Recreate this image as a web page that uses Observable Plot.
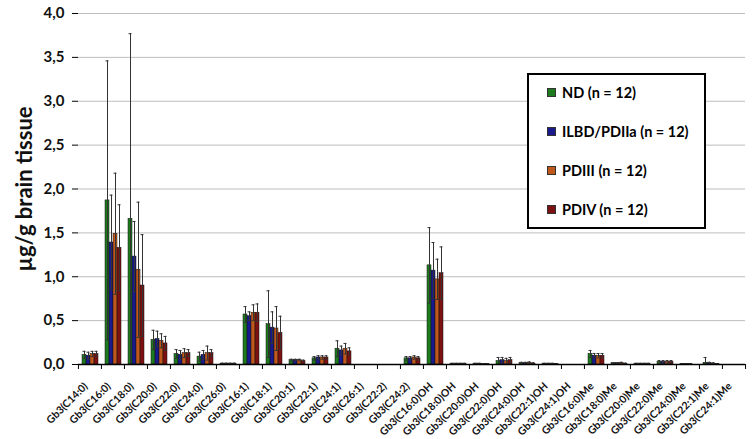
<!DOCTYPE html>
<html>
<head>
<meta charset="utf-8">
<script src="https://cdn.jsdelivr.net/npm/d3@7"></script>
<script src="https://cdn.jsdelivr.net/npm/@observablehq/plot@0.6"></script>
<style>
  body { margin: 0; background: #fff; font-family: Lato, "Open Sans", sans-serif; }
  #wrap { position: relative; width: 754px; height: 439px; }
  #legend { position: absolute; left: 527px; top: 73px; width: 175px; height: 152px;
    border: 2px solid #000; background: #fff; font-weight: bold; font-size: 14.5px; color: #000; }
  .item { position: absolute; left: 18px; display: flex; align-items: center; white-space: nowrap; }
  .sw { width: 9px; height: 9px; margin-right: 6px; border: 0.5px solid #333; box-sizing: border-box; }
</style>
</head>
<body>
<div id="wrap"></div>
<script>
const categories = ["Gb3(C14:0)","Gb3(C16:0)","Gb3(C18:0)","Gb3(C20:0)","Gb3(C22:0)","Gb3(C24:0)","Gb3(C26:0)",
  "Gb3(C16:1)","Gb3(C18:1)","Gb3(C20:1)","Gb3(C22:1)","Gb3(C24:1)","Gb3(C26:1)","Gb3(C22:2)","Gb3(C24:2)",
  "Gb3(C16:0)OH","Gb3(C18:0)OH","Gb3(C20:0)OH","Gb3(C22:0)OH","Gb3(C24:0)OH","Gb3(C22:1)OH","Gb3(C24:1)OH",
  "Gb3(C16:0)Me","Gb3(C18:0)Me","Gb3(C20:0)Me","Gb3(C22:0)Me","Gb3(C24:0)Me","Gb3(C22:1)Me","Gb3(C24:1)Me"];
const series = ["ND (n = 12)", "ILBD/PDIIa (n = 12)", "PDIII (n = 12)", "PDIV (n = 12)"];
const colors = ["#1e7a1e", "#1a1a8c", "#c0581c", "#7c1111"];

const ndValues    = [0.11,1.87,1.66,0.28,0.12,0.09,0.01,0.57,0.46,0.05,0.07,0.18,0,0,0.07,1.13,0.01,0.01,0.04,0.015,0.01,0,0.12,0.015,0.01,0.03,0.005,0.02,0];
const ilbdValues  = [0.10,1.39,1.23,0.29,0.11,0.11,0.01,0.55,0.42,0.05,0.08,0.16,0,0,0.07,1.07,0.01,0.01,0.05,0.015,0.01,0,0.10,0.015,0.01,0.03,0.005,0.015,0];
const pd3Values   = [0.12,1.49,1.08,0.27,0.13,0.13,0.01,0.59,0.41,0.05,0.08,0.18,0,0,0.08,0.97,0.01,0.005,0.04,0.02,0.01,0,0.10,0.02,0.01,0.03,0.005,0.01,0];
const pd4Values   = [0.12,1.33,0.90,0.24,0.13,0.13,0.01,0.59,0.36,0.04,0.08,0.15,0,0,0.07,1.04,0.01,0.005,0.05,0.01,0.005,0,0.10,0.01,0.01,0.03,0,0.005,0];

const ndErr   = [0.04,1.59,2.11,0.11,0.05,0.05,0.005,0.09,0.38,0.01,0.02,0.09,0,0,0.02,0.43,0.003,0.003,0.04,0.01,0.003,0,0.04,0.005,0.003,0.015,0.003,0.06,0];
const ilbdErr = [0.04,0.54,0.40,0.09,0.05,0.05,0.005,0.05,0.18,0.01,0.02,0.05,0,0,0.02,0.32,0.003,0.003,0.03,0.01,0.003,0,0.025,0.005,0.003,0.015,0.003,0.01,0];
const pd3Err  = [0.03,0.69,0.77,0.08,0.05,0.08,0.005,0.09,0.25,0.01,0.02,0.06,0,0,0.02,0.23,0.003,0.003,0.03,0.01,0.003,0,0.025,0.005,0.003,0.015,0.003,0.01,0];
const pd4Err  = [0.03,0.49,0.58,0.08,0.04,0.04,0.005,0.10,0.19,0.01,0.02,0.04,0,0,0.02,0.30,0.003,0.003,0.03,0.01,0.003,0,0.025,0.005,0.003,0.015,0,0.005,0];

const yTicks = [0, 0.5, 1, 1.5, 2, 2.5, 3, 3.5, 4];

const valueSets = [ndValues, ilbdValues, pd3Values, pd4Values];
const errSets = [ndErr, ilbdErr, pd3Err, pd4Err];
const data = categories.flatMap((c, i) => series.map((s, j) => ({
  category: c, series: s, value: valueSets[j][i], err: errSets[j][i]
})));
const has = d => d.value > 0;

const W = 754, H = 439, mL = 76, mR = 8, mT = 13, mB = 75;
const step = (W - mL - mR) / categories.length;
const fmt = d => d.toFixed(1).replace(".", ",");

const chart = Plot.plot({
  width: W, height: H,
  marginLeft: mL, marginRight: mR, marginTop: mT, marginBottom: mB,
  style: { fontFamily: "Lato, 'Open Sans', sans-serif", fontWeight: "bold", color: "#111", background: "#fff" },
  fx: { domain: categories, padding: 0, axis: null, label: null },
  x: { domain: series, paddingInner: 0, paddingOuter: 0.7, axis: null },
  y: { domain: [0, 4], axis: null },
  color: { domain: series, range: colors },
  marks: [
    Plot.ruleY(yTicks.slice(1), { stroke: "#bdbdbd", strokeWidth: 1 }),
    Plot.barY(data, { fx: "category", x: "series", y: "value", fill: "series", stroke: "#111", strokeWidth: 0.5, filter: has }),
    Plot.ruleX(data, { fx: "category", x: "series", y1: d => Math.max(0, d.value - d.err), y2: d => d.value + d.err, stroke: "#333", strokeWidth: 1, filter: has }),
    Plot.tickY(data, { fx: "category", x: "series", y: d => d.value + d.err, stroke: "#333", strokeWidth: 1, insetLeft: 0.5, insetRight: 0.5, filter: has }),
    Plot.tickY(data, { fx: "category", x: "series", y: d => Math.max(0, d.value - d.err), stroke: "#333", strokeWidth: 1, insetLeft: 0.5, insetRight: 0.5, filter: has }),
    Plot.ruleY([0], { stroke: "#000", strokeWidth: 1.5 }),
    Plot.axisY({ facetAnchor: "left", ticks: yTicks, tickFormat: fmt, tickSize: 6, tickPadding: 8, fontSize: 15, label: null, line: true, stroke: "#000" }),
    Plot.axisY({ facetAnchor: "left", ticks: [], label: "µg/g brain tissue", labelAnchor: "center", labelArrow: false, labelOffset: 62, fontSize: 22, dy: 10 }),
    Plot.axisFx({ anchor: "bottom", facetAnchor: "bottom", tickSize: 5, tickFormat: () => "", dx: -step / 2, stroke: "#000", label: null }),
    Plot.axisFx({ anchor: "bottom", facetAnchor: "bottom", ticks: [categories[categories.length - 1]], tickSize: 5, tickFormat: () => "", dx: step / 2, stroke: "#000", label: null }),
    Plot.axisFx({ anchor: "bottom", facetAnchor: "bottom", tickSize: 0, tickPadding: 15, tickRotate: -45, fontSize: 10.5, label: null, dx: -4, dy: 5 })
  ]
});

const wrap = document.getElementById("wrap");
wrap.appendChild(chart);

const legend = document.createElement("div");
legend.id = "legend";
series.forEach((s, i) => {
  const item = document.createElement("div");
  item.className = "item";
  item.style.top = (9 + i * 39) + "px";
  const sw = document.createElement("span");
  sw.className = "sw";
  sw.style.background = colors[i];
  const t = document.createElement("span");
  t.textContent = s;
  item.appendChild(sw);
  item.appendChild(t);
  legend.appendChild(item);
});
wrap.appendChild(legend);
</script>
</body>
</html>
